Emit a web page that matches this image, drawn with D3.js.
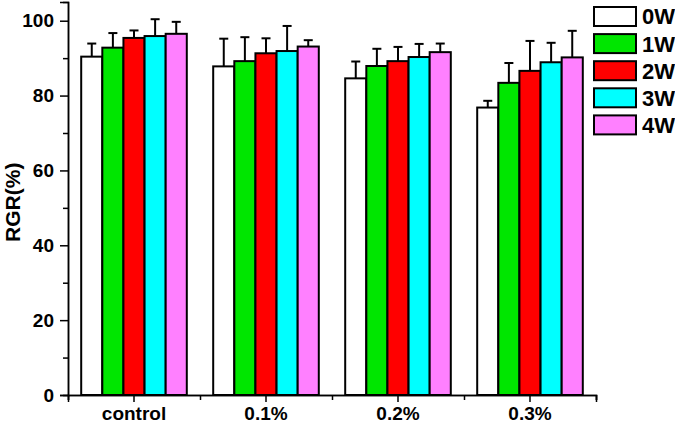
<!DOCTYPE html>
<html>
<head>
<meta charset="utf-8">
<script src="https://cdn.jsdelivr.net/npm/d3@7"></script>
<style>
  body { margin: 0; background: #fff; }
  text { font-family: "Liberation Sans", Arial, sans-serif; font-weight: bold; }
</style>
</head>
<body>
<div class="chart"></div>
<script>
// data
const categories = ["control", "0.1%", "0.2%", "0.3%"];
const seriesNames = ["0W", "1W", "2W", "3W", "4W"];
const seriesColors = ["#ffffff", "#00e600", "#ff0000", "#00ffff", "#ff80ff"];
const w0 = [90.4, 87.8, 84.6, 76.8];
const w1 = [92.8, 89.2, 87.9, 83.4];
const w2 = [95.4, 91.3, 89.2, 86.6];
const w3 = [95.9, 91.9, 90.3, 88.9];
const w4 = [96.5, 93.1, 91.6, 90.2];
const e0 = [3.5, 7.4, 4.5, 1.8];
const e1 = [3.9, 6.4, 4.6, 5.3];
const e2 = [2.0, 4.0, 3.8, 8.0];
const e3 = [4.5, 6.7, 3.5, 5.2];
const e4 = [3.2, 1.7, 2.3, 7.1];
const yMajor = [0, 20, 40, 60, 80, 100];
const yMinor = [10, 30, 50, 70, 90];

const values = [w0, w1, w2, w3, w4];
const errors = [e0, e1, e2, e3, e4];

const renderChart = (containerId) => {
  const svgWidth = 675, svgHeight = 426;
  const margin = { top: 2, right: 79, bottom: 31, left: 68 };
  const width = svgWidth - margin.left - margin.right;
  const height = svgHeight - margin.top - margin.bottom;

  const root = d3.select(`.${containerId}`)
    .append("svg")
    .attr("width", svgWidth)
    .attr("height", svgHeight);
  const svg = root.append("g")
    .attr("transform", `translate(${margin.left},${margin.top})`);

  const x = d3.scaleBand().domain(categories).range([0, width]).padding(0);
  const xs = d3.scaleBand().domain(seriesNames)
    .range([x.bandwidth() * 0.1, x.bandwidth() * 0.9]).padding(0);
  const y = d3.scaleLinear().domain([0, 105]).range([height, 0]);

  const rows = [];
  seriesNames.forEach((s, i) => {
    categories.forEach((c, j) => {
      rows.push({ cat: c, ser: s, color: seriesColors[i], v: values[i][j], e: errors[i][j] });
    });
  });

  // error bars (upper only), drawn under the bars
  const eb = svg.selectAll(".err").data(rows).enter().append("g").attr("class", "err")
    .attr("stroke", "#000").attr("stroke-width", 2);
  eb.append("line")
    .attr("x1", d => x(d.cat) + xs(d.ser) + xs.bandwidth() / 2)
    .attr("x2", d => x(d.cat) + xs(d.ser) + xs.bandwidth() / 2)
    .attr("y1", d => y(d.v))
    .attr("y2", d => y(d.v + d.e));
  eb.append("line")
    .attr("x1", d => x(d.cat) + xs(d.ser) + xs.bandwidth() / 2 - 4.5)
    .attr("x2", d => x(d.cat) + xs(d.ser) + xs.bandwidth() / 2 + 4.5)
    .attr("y1", d => y(d.v + d.e))
    .attr("y2", d => y(d.v + d.e));

  svg.selectAll(".bar").data(rows).enter().append("rect")
    .attr("class", "bar")
    .attr("x", d => x(d.cat) + xs(d.ser))
    .attr("y", d => y(d.v))
    .attr("width", xs.bandwidth())
    .attr("height", d => y(0) - y(d.v))
    .attr("fill", d => d.color)
    .attr("stroke", "#000")
    .attr("stroke-width", 2);

  // y axis
  const yAxis = svg.append("g")
    .call(d3.axisLeft(y).tickValues(yMajor).tickSize(8).tickPadding(6));
  svg.append("g")
    .call(d3.axisLeft(y).tickValues(yMinor).tickSize(5).tickFormat(""));
  yAxis.selectAll("text").attr("font-size", 19).attr("fill", "#000");

  // x axis
  const xAxis = svg.append("g")
    .attr("transform", `translate(0,${height})`)
    .call(d3.axisBottom(x).tickSize(7).tickPadding(5));
  xAxis.selectAll("text").attr("font-size", 19).attr("fill", "#000");
  const xb = d3.scaleLinear().domain([0, categories.length]).range([0, width]);
  svg.append("g")
    .attr("transform", `translate(0,${height})`)
    .call(d3.axisBottom(xb).tickValues(d3.range(categories.length + 1)).tickSize(5).tickFormat(""));

  svg.selectAll(".domain").attr("stroke", "#000").attr("stroke-width", 1.5);
  svg.selectAll(".tick line").attr("stroke", "#000").attr("stroke-width", 1.5);

  // y label
  svg.append("text")
    .attr("transform", `translate(${-margin.left + 20},${y(51.5)}) rotate(-90)`)
    .attr("text-anchor", "middle")
    .attr("font-size", 21)
    .text("RGR(%)");

  // legend
  const lg = root.append("g").attr("transform", "translate(594,7)");
  const item = lg.selectAll(".leg").data(seriesNames).enter().append("g")
    .attr("transform", (d, i) => `translate(0,${i * 27.1})`);
  item.append("rect")
    .attr("width", 42).attr("height", 19)
    .attr("fill", (d, i) => seriesColors[i])
    .attr("stroke", "#000").attr("stroke-width", 2);
  item.append("text")
    .attr("x", 48).attr("y", 9.5).attr("dy", "0.36em")
    .attr("font-size", 22)
    .text(d => d);
};

renderChart("chart");
</script>
</body>
</html>
